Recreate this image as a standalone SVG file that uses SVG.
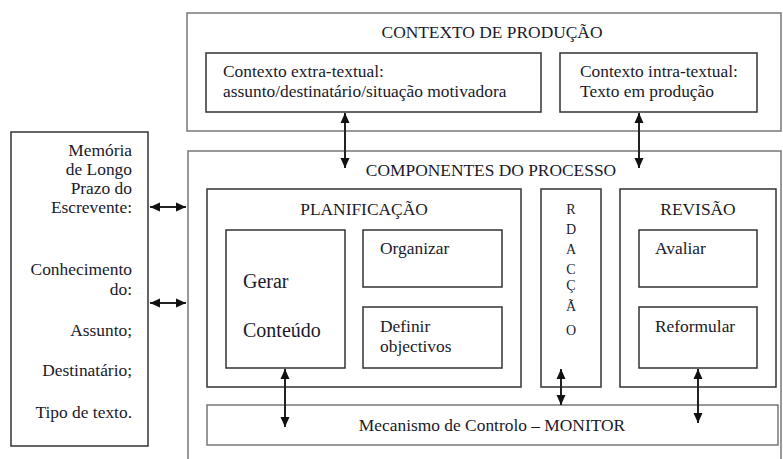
<svg xmlns="http://www.w3.org/2000/svg" width="783" height="459" viewBox="0 0 783 459" font-family="Liberation Serif">
<defs>
<style>
text{font-family:"Liberation Serif","Times New Roman",serif;fill:#1a1a2a;font-size:17.4px}
.outer{fill:#fff;stroke:#777;stroke-width:1.5}
.inner{fill:#fff;stroke:#333;stroke-width:1.5}
.big{font-size:20px}
.let{font-size:14px;text-anchor:middle}
.c{text-anchor:middle}
.r{text-anchor:end}
.conn line{stroke:#222;stroke-width:2;marker-start:url(#ah);marker-end:url(#ah)}
</style>
<marker id="ah" viewBox="0 0 10 10" refX="10" refY="5" markerWidth="10" markerHeight="10" markerUnits="userSpaceOnUse" orient="auto-start-reverse">
<path d="M0,0.5 L10,5 L0,9.5 z" fill="#111"/>
</marker>
</defs>
<rect width="783" height="459" fill="#fff"/>

<g id="contexto-producao">
<rect class="outer" x="187" y="13" width="594" height="118"/>
<text class="c" x="492" y="38">CONTEXTO DE PRODUÇÃO</text>
</g>
<g id="contexto-extra">
<rect class="inner" x="206" y="53" width="335" height="59"/>
<text x="223" y="77">Contexto extra-textual:</text>
<text x="223" y="97">assunto/destinatário/situação motivadora</text>
</g>
<g id="contexto-intra">
<rect class="inner" x="560" y="53" width="197" height="59"/>
<text x="580" y="77">Contexto intra-textual:</text>
<text x="580" y="97">Texto em produção</text>
</g>

<g id="memoria">
<rect class="inner" x="11" y="132" width="137" height="314"/>
<text class="r" x="132" y="156">Memória</text>
<text class="r" x="132" y="175">de Longo</text>
<text class="r" x="132" y="194">Prazo do</text>
<text class="r" x="132" y="213">Escrevente:</text>
<text class="r" x="132" y="275">Conhecimento</text>
<text class="r" x="132" y="295">do:</text>
<text class="r" x="132" y="336">Assunto;</text>
<text class="r" x="132" y="376">Destinatário;</text>
<text class="r" x="132" y="418">Tipo de texto.</text>
</g>

<g id="componentes">
<rect class="outer" x="188" y="151" width="593" height="320"/>
<text class="c" x="491" y="176">COMPONENTES DO PROCESSO</text>
</g>

<g id="planificacao">
<rect class="inner" x="207" y="189" width="314" height="198"/>
<text class="c" x="364" y="215">PLANIFICAÇÃO</text>
</g>
<g id="gerar">
<rect class="inner" x="226" y="230" width="119" height="138"/>
<text class="big" x="243" y="288">Gerar</text>
<text class="big" x="243" y="337">Conteúdo</text>
</g>
<g id="organizar">
<rect class="inner" x="363" y="230" width="139" height="57"/>
<text x="380" y="254">Organizar</text>
</g>
<g id="definir">
<rect class="inner" x="363" y="307" width="139" height="61"/>
<text x="380" y="332">Definir</text>
<text x="380" y="352">objectivos</text>
</g>

<g id="redaccao">
<rect class="inner" x="541" y="189" width="60" height="198"/>
<text class="let" x="571" y="214">R</text>
<text class="let" x="571" y="234">D</text>
<text class="let" x="571" y="254">A</text>
<text class="let" x="571" y="274">C</text>
<text class="let" x="571" y="290">Ç</text>
<text class="let" x="571" y="311">Ã</text>
<text class="let" x="571" y="335">O</text>
</g>

<g id="revisao">
<rect class="inner" x="620" y="189" width="156" height="198"/>
<text class="c" x="698" y="215">REVISÃO</text>
</g>
<g id="avaliar">
<rect class="inner" x="639" y="230" width="118" height="57"/>
<text x="655" y="254">Avaliar</text>
</g>
<g id="reformular">
<rect class="inner" x="639" y="307" width="118" height="61"/>
<text x="655" y="332">Reformular</text>
</g>

<g id="monitor">
<rect class="outer" x="207" y="405" width="571" height="40"/>
<text class="c" x="492" y="431">Mecanismo de Controlo – MONITOR</text>
</g>

<g id="connectors" class="conn">
<line x1="150" y1="207" x2="186" y2="207"/>
<line x1="150" y1="303" x2="186" y2="303"/>
<line x1="345" y1="113" x2="345" y2="168"/>
<line x1="639" y1="113" x2="639" y2="168"/>
<line x1="285" y1="369" x2="285" y2="427"/>
<line x1="561" y1="369" x2="561" y2="405"/>
<line x1="698" y1="369" x2="698" y2="423"/>
</g>
</svg>
